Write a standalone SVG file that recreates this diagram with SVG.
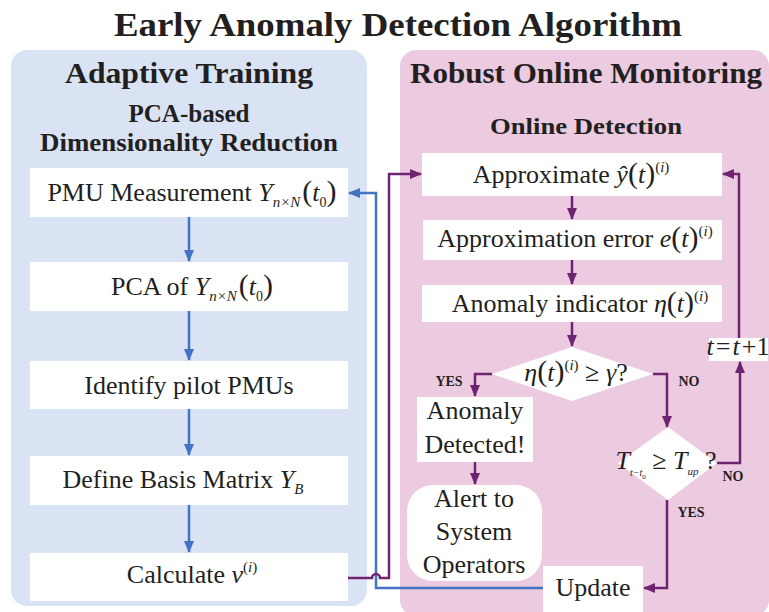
<svg xmlns="http://www.w3.org/2000/svg" width="769" height="612" viewBox="0 0 769 612">
<defs>
<style>
.t{font-family:"Liberation Serif",serif;font-size:26px;fill:#231f20}
.i{font-style:italic}
.sb{font-size:15px}
.sm{font-size:14px}
.p{font-size:30px}
.h{font-family:"Liberation Serif",serif;font-weight:bold;fill:#231f20}
.lb{font-family:"Liberation Serif",serif;font-weight:bold;font-size:14px;fill:#231f20}
.box{fill:#ffffff}
.cb{stroke:#4472c4;stroke-width:2.5;fill:none}
.cp{stroke:#6e2470;stroke-width:2.5;fill:none}
</style>
<marker id="ab" viewBox="0 0 12 10" refX="11" refY="5" markerWidth="12" markerHeight="10" markerUnits="userSpaceOnUse" orient="auto"><path d="M0,0 L12,5 L0,10 z" fill="#4472c4"/></marker>
<marker id="ap" viewBox="0 0 12 10" refX="11" refY="5" markerWidth="12" markerHeight="10" markerUnits="userSpaceOnUse" orient="auto"><path d="M0,0 L12,5 L0,10 z" fill="#6e2470"/></marker>
</defs>
<rect width="769" height="612" fill="#ffffff"/>
<text class="h" x="398" y="36" font-size="34" text-anchor="middle" textLength="568" lengthAdjust="spacingAndGlyphs">Early Anomaly Detection Algorithm</text>

<g id="panel-training">
<rect x="11" y="50" width="356" height="556" rx="16" fill="#dae3f3"/>
<text class="h" x="189" y="83" font-size="29" text-anchor="middle" textLength="248" lengthAdjust="spacingAndGlyphs">Adaptive Training</text>
<text class="h" x="189" y="122" font-size="25" text-anchor="middle" textLength="121" lengthAdjust="spacingAndGlyphs">PCA-based</text>
<text class="h" x="189" y="151" font-size="25" text-anchor="middle" textLength="298" lengthAdjust="spacingAndGlyphs">Dimensionality Reduction</text>
</g>
<g id="panel-monitoring">
<rect x="400" y="50" width="369" height="566" rx="16" fill="#eccbe0"/>
<text class="h" x="586" y="83" font-size="29" text-anchor="middle" textLength="352" lengthAdjust="spacingAndGlyphs">Robust Online Monitoring</text>
<text class="h" x="586" y="134" font-size="23" text-anchor="middle" textLength="192" lengthAdjust="spacingAndGlyphs">Online Detection</text>
</g>

<g id="pmu">
<rect class="box" x="30" y="168" width="318" height="49"/>
<text class="t" x="192" y="201" text-anchor="middle">PMU Measurement <tspan class="i">Y</tspan><tspan class="sb i" dy="6">n×N</tspan><tspan class="p" dy="-6" dx="2">(</tspan><tspan class="i">t</tspan><tspan class="sm" dy="6">0</tspan><tspan class="p" dy="-6">)</tspan></text>
</g>
<g id="pca">
<rect class="box" x="30" y="262" width="318" height="49"/>
<text class="t" x="192" y="295" text-anchor="middle">PCA of <tspan class="i">Y</tspan><tspan class="sb i" dy="6">n×N</tspan><tspan class="p" dy="-6" dx="2">(</tspan><tspan class="i">t</tspan><tspan class="sm" dy="6">0</tspan><tspan class="p" dy="-6">)</tspan></text>
</g>
<g id="pilot">
<rect class="box" x="30" y="361" width="318" height="48"/>
<text class="t" x="189" y="394" text-anchor="middle">Identify pilot PMUs</text>
</g>
<g id="basis">
<rect class="box" x="30" y="456" width="318" height="49"/>
<text class="t" x="183" y="488" text-anchor="middle">Define Basis Matrix <tspan class="i">Y</tspan><tspan class="sb i" dy="6">B</tspan></text>
</g>
<g id="calc">
<rect class="box" x="30" y="553" width="318" height="48"/>
<text class="t" x="192" y="583" text-anchor="middle">Calculate <tspan class="i">ν</tspan><tspan class="sb" dy="-11">(</tspan><tspan class="sb i">i</tspan><tspan class="sb">)</tspan></text>
</g>

<g id="approx">
<rect class="box" x="422" y="153" width="300" height="43"/>
<text class="t" x="571" y="183" text-anchor="middle">Approximate <tspan class="i">ŷ</tspan><tspan class="p">(</tspan><tspan class="i">t</tspan><tspan class="p">)</tspan><tspan class="sb" dy="-11">(</tspan><tspan class="sb i">i</tspan><tspan class="sb">)</tspan></text>
</g>
<g id="error">
<rect class="box" x="423" y="220" width="299" height="40"/>
<text class="t" x="575" y="247" text-anchor="middle">Approximation error <tspan class="i">e</tspan><tspan class="p">(</tspan><tspan class="i">t</tspan><tspan class="p">)</tspan><tspan class="sb" dy="-11">(</tspan><tspan class="sb i">i</tspan><tspan class="sb">)</tspan></text>
</g>
<g id="indicator">
<rect class="box" x="422" y="285" width="300" height="37"/>
<text class="t" x="580" y="312" text-anchor="middle">Anomaly indicator <tspan class="i">η</tspan><tspan class="p">(</tspan><tspan class="i">t</tspan><tspan class="p">)</tspan><tspan class="sb" dy="-11">(</tspan><tspan class="sb i">i</tspan><tspan class="sb">)</tspan></text>
</g>
<g id="threshold">
<polygon class="box" points="572,347 653,374 572,401 492,374"/>
<text class="t" x="576" y="381" text-anchor="middle"><tspan class="i">η</tspan><tspan class="p">(</tspan><tspan class="i">t</tspan><tspan class="p">)</tspan><tspan class="sb" dy="-11">(</tspan><tspan class="sb i">i</tspan><tspan class="sb">)</tspan><tspan dy="11"> ≥ </tspan><tspan class="i">γ</tspan>?</text>
</g>
<g id="detected">
<rect class="box" x="417" y="397" width="116" height="65"/>
<text class="t" x="475" y="419" text-anchor="middle">Anomaly</text>
<text class="t" x="475" y="453" text-anchor="middle">Detected!</text>
</g>
<g id="alert">
<rect class="box" x="407" y="485" width="135" height="96" rx="26"/>
<text class="t" x="474" y="507" text-anchor="middle">Alert to</text>
<text class="t" x="474" y="540" text-anchor="middle">System</text>
<text class="t" x="474" y="573" text-anchor="middle">Operators</text>
</g>
<g id="update-check">
<polygon class="box" points="668,427 717,463 668,500 618,463"/>
<text class="t" x="666" y="469" text-anchor="middle" font-size="20"><tspan class="i">T</tspan><tspan class="i" font-size="10" dy="7">t−t</tspan><tspan font-size="7" dy="3">0</tspan><tspan dy="-10"> ≥ </tspan><tspan class="i">T</tspan><tspan class="i" font-size="11" dy="6">up</tspan><tspan dy="-6"> ?</tspan></text>
</g>
<g id="increment">
<rect class="box" x="709" y="338" width="59" height="23"/>
<text class="t" x="738" y="355" text-anchor="middle" font-size="18"><tspan class="i">t</tspan><tspan dx="2">=</tspan><tspan class="i" dx="2">t</tspan><tspan dx="2">+1</tspan></text>
</g>
<g id="update">
<rect class="box" x="543" y="566" width="100" height="46"/>
<text class="t" x="593" y="596" text-anchor="middle">Update</text>
</g>

<g id="connectors">
<path class="cb" d="M189,217 V261" marker-end="url(#ab)"/>
<path class="cb" d="M189,311 V360" marker-end="url(#ab)"/>
<path class="cb" d="M189,409 V455" marker-end="url(#ab)"/>
<path class="cb" d="M189,505 V552" marker-end="url(#ab)"/>
<path class="cb" d="M543,588 H376 V193 H349" marker-end="url(#ab)"/>
<path class="cp" d="M348,578 H372 a4,4 0 0 1 8,0 H389 V174 H421" marker-end="url(#ap)"/>
<path class="cp" d="M572,196 V219" marker-end="url(#ap)"/>
<path class="cp" d="M572,260 V284" marker-end="url(#ap)"/>
<path class="cp" d="M572,322 V346" marker-end="url(#ap)"/>
<path class="cp" d="M492,374 H475 V396" marker-end="url(#ap)"/>
<path class="cp" d="M653,374 H667 V427" marker-end="url(#ap)"/>
<path class="cp" d="M475,462 V484" marker-end="url(#ap)"/>
<path class="cp" d="M717,463 H740 V362" marker-end="url(#ap)"/>
<path class="cp" d="M739,338 V174 H723" marker-end="url(#ap)"/>
<path class="cp" d="M667,500 V588 H644" marker-end="url(#ap)"/>
<text class="lb" x="449" y="386" text-anchor="middle">YES</text>
<text class="lb" x="689" y="386" text-anchor="middle">NO</text>
<text class="lb" x="733" y="481" text-anchor="middle">NO</text>
<text class="lb" x="691" y="517" text-anchor="middle">YES</text>
</g>
</svg>
